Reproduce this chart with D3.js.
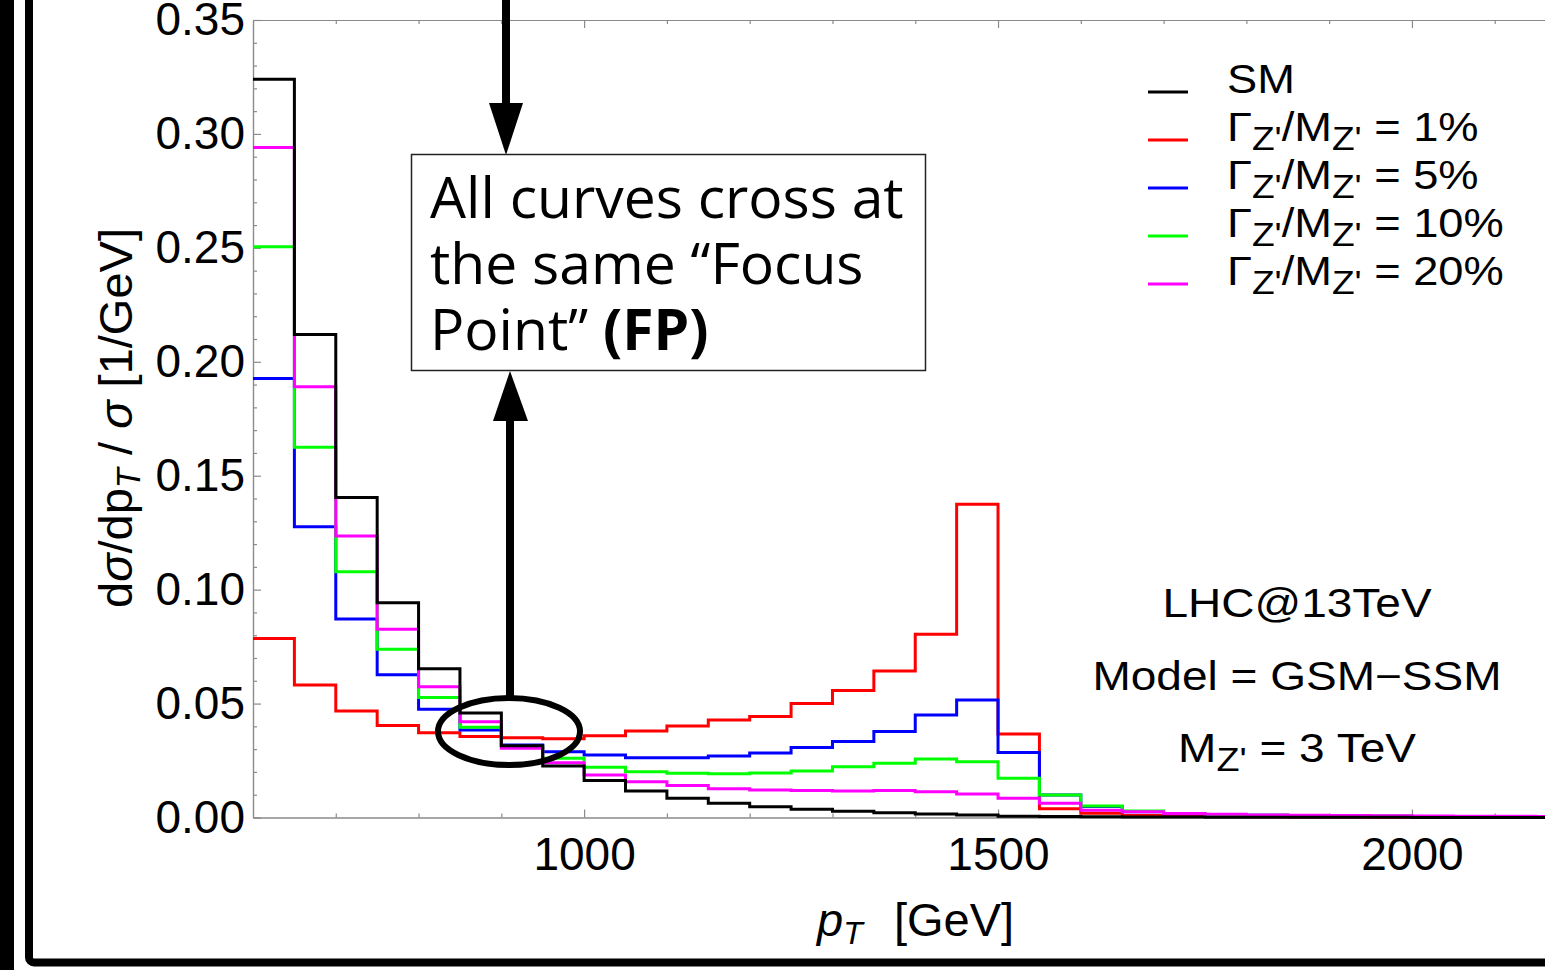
<!DOCTYPE html>
<html><head><meta charset="utf-8">
<script src="https://cdn.jsdelivr.net/npm/d3@7"></script>
<style>body{margin:0;background:#fff;} svg{display:block}</style>
</head><body>
<svg id="c" width="1545" height="970"></svg>
<script>
// ---------- DATA ----------
const binEdges = [600,650,700,750,800,850,900,950,1000,1050,1100,1150,1200,1250,1300,1350,1400,1450,1500,1550,1600,1650,1700,1750,1800,1850,1900,1950,2000,2050,2100,2150,2200];
const smValues   = [0.324,0.212,0.1404,0.0943,0.0653,0.0459,0.0315,0.0226,0.0162,0.0116,0.0084,0.0062,0.0047,0.0036,0.0027,0.0021,0.0015,0.0011,0.0006,0.0004,0.0003,0.0002,0.0002,0.0001,0.0001,0.0001,0.0001,0.0001,0.0000,0.0000,0.0000,0.0000];
const w1Values   = [0.0786,0.0581,0.0467,0.0404,0.0372,0.0355,0.0350,0.0346,0.0359,0.0380,0.0402,0.0428,0.0443,0.0500,0.0557,0.0643,0.0804,0.1375,0.0366,0.0038,0.0019,0.0009,0.0006,0.0004,0.0003,0.0002,0.0002,0.0001,0.0001,0.0001,0.0001,0.0001];
const w5Values   = [0.1927,0.1276,0.0871,0.0626,0.0475,0.0384,0.0318,0.0289,0.0274,0.0262,0.0262,0.0270,0.0283,0.0307,0.0333,0.0377,0.0450,0.0516,0.0285,0.0099,0.0048,0.0025,0.0017,0.0013,0.0010,0.0008,0.0006,0.0005,0.0004,0.0003,0.0003,0.0002];
const w10Values  = [0.2505,0.1625,0.1079,0.0738,0.0527,0.0396,0.0312,0.0260,0.0221,0.0201,0.0194,0.0192,0.0195,0.0204,0.0223,0.0238,0.0257,0.0245,0.0172,0.0099,0.0050,0.0028,0.0018,0.0013,0.0010,0.0008,0.0006,0.0005,0.0004,0.0003,0.0003,0.0002];
const w20Values  = [0.294,0.189,0.1235,0.0826,0.0574,0.0420,0.0304,0.0240,0.0187,0.0157,0.0140,0.0126,0.0121,0.0118,0.0116,0.0118,0.0113,0.0103,0.0084,0.0062,0.0032,0.0025,0.0018,0.0014,0.0011,0.0010,0.0009,0.0008,0.0007,0.0006,0.0005,0.0004];
const xMajorTicks = [1000,1500,2000];
const xMinorTicks = [700,800,900,1100,1200,1300,1400,1600,1700,1800,1900,2100];
const yMajorTicks = [0,0.05,0.10,0.15,0.20,0.25,0.30,0.35];
const yMinorTicks = [0.01,0.02,0.03,0.04,0.06,0.07,0.08,0.09,0.11,0.12,0.13,0.14,0.16,0.17,0.18,0.19,0.21,0.22,0.23,0.24,0.26,0.27,0.28,0.29,0.31,0.32,0.33,0.34];
const seriesNames = ["SM","1%","5%","10%","20%"];
const seriesColors = ["#000000","#ff0000","#0000ff","#00ff00","#ff00ff"];
const seriesValues = [smValues,w1Values,w5Values,w10Values,w20Values];

// ---------- CHART ----------
const svg = d3.select("#c");
const F = "'Liberation Sans', Arial, Helvetica, sans-serif";
const x = d3.scaleLinear().domain([600,2200]).range([253,1577.5]);
const y = d3.scaleLinear().domain([0,0.35]).range([817.5,20]);
const axisColor = "#8a8a8a";

svg.append("rect").attr("width",1545).attr("height",970).attr("fill","#fff");

function styleAxis(g){
  g.select(".domain").attr("stroke",axisColor).attr("stroke-width",1.2);
  g.selectAll(".tick line").attr("stroke",axisColor).attr("stroke-width",1.2);
  g.selectAll(".tick text").attr("fill","#000").attr("font-family",F).attr("font-size",46);
}
// bottom axis
svg.append("g").attr("transform",`translate(0,${y(0)})`)
  .call(d3.axisBottom(x).tickValues(xMajorTicks).tickSize(-8).tickSizeOuter(0).tickPadding(20).tickFormat(d3.format("d")))
  .call(styleAxis);
svg.append("g").attr("transform",`translate(0,${y(0)})`)
  .call(d3.axisBottom(x).tickValues(xMinorTicks).tickSize(-4).tickSizeOuter(0).tickFormat(""))
  .call(styleAxis);
// top axis
svg.append("g").attr("transform",`translate(0,${y(0.35)})`)
  .call(d3.axisTop(x).tickValues(xMajorTicks).tickSize(-8).tickSizeOuter(0).tickFormat(""))
  .call(styleAxis);
svg.append("g").attr("transform",`translate(0,${y(0.35)})`)
  .call(d3.axisTop(x).tickValues(xMinorTicks).tickSize(-4).tickSizeOuter(0).tickFormat(""))
  .call(styleAxis);
// left axis
svg.append("g").attr("transform",`translate(${x(600)},0)`)
  .call(d3.axisLeft(y).tickValues(yMajorTicks).tickSize(-8).tickSizeOuter(0).tickPadding(8).tickFormat(d3.format(".2f")))
  .call(styleAxis);
svg.append("g").attr("transform",`translate(${x(600)},0)`)
  .call(d3.axisLeft(y).tickValues(yMinorTicks).tickSize(-4).tickSizeOuter(0).tickFormat(""))
  .call(styleAxis);

// histograms (drawn so SM ends on top)
const line = d3.line().x(d=>x(d[0])).y(d=>y(d[1])).curve(d3.curveStepAfter);
const drawOrder = [1,2,3,4,0];
svg.append("clipPath").attr("id","pc").append("rect")
  .attr("x",x(600)).attr("y",0).attr("width",x(2200)-x(600)).attr("height",y(0)+2);
const hg = svg.append("g").attr("clip-path","url(#pc)");
drawOrder.forEach(i=>{
  const vals = seriesValues[i];
  const pts = vals.map((v,k)=>[binEdges[k],v]);
  pts.push([binEdges[binEdges.length-1], vals[vals.length-1]]);
  hg.append("path").attr("d",line(pts)).attr("fill","none")
    .attr("stroke",seriesColors[i]).attr("stroke-width",3).attr("stroke-linejoin","miter");
});

// rich text helper
function rich(g, parts, size, subSize, subShift){
  const t = g.append("text").attr("font-family",F).attr("font-size",size).attr("fill","#000");
  let cur = 0;
  parts.forEach(p=>{
    const ts = t.append("tspan").text(p.t);
    const target = p.sub ? subShift : 0;
    if (target !== cur) { ts.attr("dy", target-cur); cur = target; }
    if (p.sub) ts.attr("font-size",subSize);
    if (p.it) ts.attr("font-style","italic");
  });
  return t;
}

// legend
const legY = [92,140,188,236,284];
const legendLabels = [
  [{t:"SM"}],
  [{t:"Γ"},{t:"Z'",sub:true},{t:"/M"},{t:"Z'",sub:true},{t:" = 1%"}],
  [{t:"Γ"},{t:"Z'",sub:true},{t:"/M"},{t:"Z'",sub:true},{t:" = 5%"}],
  [{t:"Γ"},{t:"Z'",sub:true},{t:"/M"},{t:"Z'",sub:true},{t:" = 10%"}],
  [{t:"Γ"},{t:"Z'",sub:true},{t:"/M"},{t:"Z'",sub:true},{t:" = 20%"}]
];
seriesNames.forEach((n,i)=>{
  svg.append("line").attr("x1",1148).attr("x2",1188).attr("y1",legY[i]).attr("y2",legY[i])
    .attr("stroke",seriesColors[i]).attr("stroke-width",3);
  const g = svg.append("g").attr("transform",`translate(1227,${legY[i]+1}) scale(1.16,1.03)`);
  rich(g, legendLabels[i], 39, 32, 9);
});

// info text
[[617,[{t:"LHC@13TeV"}]],[690,[{t:"Model = GSM−SSM"}]],[762,[{t:"M"},{t:"Z'",sub:true},{t:" = 3 TeV"}]]]
  .forEach(([by,parts])=>{
    const g = svg.append("g").attr("transform",`translate(1297,${by}) scale(1.18,1.03)`);
    rich(g, parts, 39, 32, 9).attr("text-anchor","middle");
  });

// axis titles
const gxl = svg.append("g").attr("transform","translate(817,936)");
rich(gxl, [{t:"p",it:true},{t:"T",sub:true,it:true}], 47, 32, 8);
svg.append("text").attr("x",894).attr("y",936).attr("font-family",F).attr("font-size",47).attr("fill","#000").text("[GeV]");
const gyl = svg.append("g").attr("transform","translate(132,418) rotate(-90)");
rich(gyl, [{t:"d"},{t:"σ",it:true},{t:"/dp"},{t:"T",sub:true,it:true},{t:" / "},{t:"σ",it:true},{t:" [1/GeV]"}], 47, 33, 8).attr("text-anchor","middle");

// annotation: ellipse + arrows + box
svg.append("ellipse").attr("cx",509).attr("cy",731.5).attr("rx",71).attr("ry",33.5)
  .attr("fill","none").attr("stroke","#000").attr("stroke-width",6);
svg.append("line").attr("x1",506).attr("x2",506).attr("y1",0).attr("y2",106).attr("stroke","#000").attr("stroke-width",8);
svg.append("path").attr("d","M489,103 L523,103 L506,155 Z").attr("fill","#000");
svg.append("line").attr("x1",510).attr("x2",510).attr("y1",418).attr("y2",698).attr("stroke","#000").attr("stroke-width",8);
svg.append("path").attr("d","M493,421 L528,421 L510,371 Z").attr("fill","#000");
svg.append("rect").attr("x",411.5).attr("y",154.5).attr("width",514).attr("height",216)
  .attr("fill","#fff").attr("stroke","#222").attr("stroke-width",1.5);
const BF = "'Open Sans', 'Noto Sans', sans-serif";
const boxLines = [["All curves cross at",null],["the same “Focus",null],["Point” ","(FP)"]];
const boxY = [218,284,350];
const bt = svg.append("text").attr("font-family",BF).attr("font-size",57).attr("fill","#000").style("white-space","pre");
boxLines.forEach((l,i)=>{
  bt.append("tspan").attr("x",430).attr("y",boxY[i]).text(l[0]);
  if (l[1]) bt.append("tspan").attr("font-weight","bold").text(l[1]);
});

// outer frame
svg.append("rect").attr("x",0).attr("y",0).attr("width",14).attr("height",970).attr("fill","#000");
svg.append("rect").attr("x",29).attr("y",-50).attr("width",1600).attr("height",1012.5).attr("rx",5)
  .attr("fill","none").attr("stroke","#000").attr("stroke-width",8);
</script>
</body></html>
